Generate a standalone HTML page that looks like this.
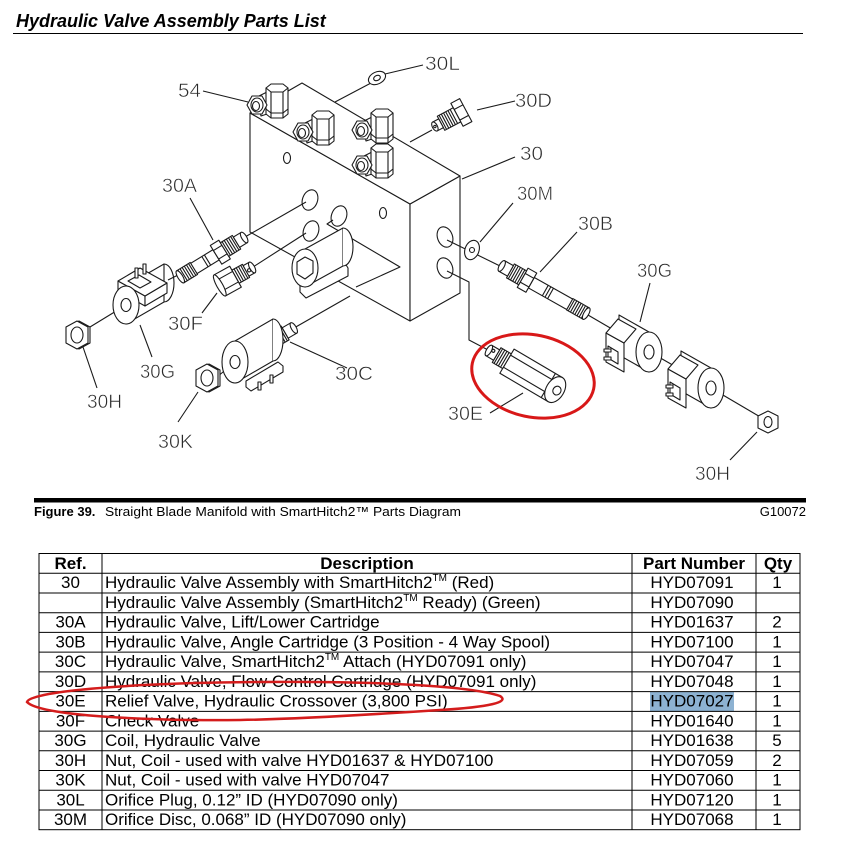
<!DOCTYPE html>
<html><head><meta charset="utf-8">
<style>
html,body{margin:0;padding:0;background:#fff;}
svg{display:block;}
</style></head><body>
<svg width="842" height="842" viewBox="0 0 842 842" xmlns="http://www.w3.org/2000/svg" font-family="'Liberation Sans', Arial, sans-serif">
<rect width="842" height="842" fill="#fff"/>

<!-- Title -->
<text x="16" y="27" font-size="18" font-weight="bold" font-style="italic" fill="#000">Hydraulic Valve Assembly Parts List</text>
<line x1="13" y1="33.5" x2="803" y2="33.5" stroke="#000" stroke-width="1"/>

<!-- ============ DIAGRAM ============ -->
<g stroke="#1a1a1a" stroke-width="1.1" fill="none" stroke-linejoin="round">

<!-- Manifold block -->
<polygon points="250,113 410,204 410,321 250,232" fill="#fff"/>
<polygon points="410,204 460,176 460,293 410,321" fill="#fff"/>
<polygon points="250,113 302,83 460,176 410,204" fill="#fff"/>
<!-- holes front -->
<ellipse cx="287" cy="158" rx="3.5" ry="5.5"/>
<ellipse cx="383" cy="213" rx="3.5" ry="5.5"/>
<ellipse cx="310" cy="200" rx="7.5" ry="10.5" transform="rotate(20 310 200)"/>
<ellipse cx="339" cy="216" rx="7.5" ry="10.5" transform="rotate(20 339 216)"/>
<ellipse cx="311" cy="231" rx="7.5" ry="10.5" transform="rotate(20 311 231)"/>
<!-- holes right -->
<ellipse cx="445" cy="237" rx="7.5" ry="10.5" transform="rotate(-20 445 237)"/>
<ellipse cx="445" cy="268" rx="7.5" ry="10.5" transform="rotate(-20 445 268)"/>
<!-- recess outline -->
<polyline points="333,220 327,224 400,267 356,287"/>

<!-- connection / leader lines -->
<line x1="423" y1="65" x2="385" y2="74"/>
<line x1="371" y1="83" x2="335" y2="102"/>
<line x1="515" y1="101" x2="477" y2="110"/>
<line x1="432" y1="130" x2="410" y2="142"/>
<line x1="515" y1="157" x2="462" y2="179"/>
<line x1="513" y1="203" x2="480" y2="242"/>
<line x1="447" y1="240" x2="500" y2="266"/>
<line x1="577" y1="232" x2="540" y2="272"/>
<line x1="588" y1="315" x2="612" y2="329"/>
<line x1="650" y1="283" x2="640" y2="322"/>
<line x1="650" y1="352" x2="690" y2="375"/>
<line x1="711" y1="388" x2="762" y2="418"/>
<line x1="757" y1="432" x2="730" y2="460"/>
<polyline points="447,271 469,282 469,340 490,351"/>
<line x1="523" y1="393" x2="490" y2="413"/>
<line x1="203" y1="91" x2="248" y2="102"/>
<line x1="190" y1="198" x2="213" y2="240"/>
<line x1="245" y1="237" x2="306" y2="202"/>
<line x1="253" y1="267" x2="306" y2="233"/>
<line x1="217" y1="293" x2="202" y2="313"/>
<line x1="168" y1="280" x2="182" y2="273"/>
<line x1="90" y1="327" x2="126" y2="305"/>
<line x1="140" y1="325" x2="152" y2="357"/>
<line x1="83" y1="347" x2="97" y2="388"/>
<line x1="294" y1="328" x2="350" y2="296"/>
<line x1="290" y1="342" x2="347" y2="368"/>
<line x1="217" y1="377" x2="235" y2="362"/>
<line x1="198" y1="392" x2="178" y2="422"/>

<!-- Elbow fittings (54) -->
<g transform="translate(277,84)">
 <path d="M-20,13 L-4,5 L-4,28 L-16,32 Z" fill="#fff"/>
 <path d="M-11,4 L-11,30 L-6,34 L6,34 L11,30 L11,4 Z" fill="#fff"/>
 <polygon points="-11,4 -6,0 6,0 11,4 6,8 -6,8" fill="#fff"/>
 <path d="M-6,8V34M6,8V34M-11,25L-6,29L6,29L11,25"/>
 <polygon points="-30,21 -25,12 -15,12 -10,21 -15,30 -25,30" fill="#fff"/>
 <ellipse cx="-20" cy="21" rx="6" ry="7" fill="#fff"/>
 <ellipse cx="-21" cy="22" rx="3.5" ry="4.5"/>
</g>
<g transform="translate(323,111)">
 <path d="M-20,13 L-4,5 L-4,28 L-16,32 Z" fill="#fff"/>
 <path d="M-11,4 L-11,30 L-6,34 L6,34 L11,30 L11,4 Z" fill="#fff"/>
 <polygon points="-11,4 -6,0 6,0 11,4 6,8 -6,8" fill="#fff"/>
 <path d="M-6,8V34M6,8V34M-11,25L-6,29L6,29L11,25"/>
 <polygon points="-30,21 -25,12 -15,12 -10,21 -15,30 -25,30" fill="#fff"/>
 <ellipse cx="-20" cy="21" rx="6" ry="7" fill="#fff"/>
 <ellipse cx="-21" cy="22" rx="3.5" ry="4.5"/>
</g>
<g transform="translate(382,109)">
 <path d="M-20,13 L-4,5 L-4,28 L-16,32 Z" fill="#fff"/>
 <path d="M-11,4 L-11,30 L-6,34 L6,34 L11,30 L11,4 Z" fill="#fff"/>
 <polygon points="-11,4 -6,0 6,0 11,4 6,8 -6,8" fill="#fff"/>
 <path d="M-6,8V34M6,8V34M-11,25L-6,29L6,29L11,25"/>
 <polygon points="-30,21 -25,12 -15,12 -10,21 -15,30 -25,30" fill="#fff"/>
 <ellipse cx="-20" cy="21" rx="6" ry="7" fill="#fff"/>
 <ellipse cx="-21" cy="22" rx="3.5" ry="4.5"/>
</g>
<g transform="translate(382,144)">
 <path d="M-20,13 L-4,5 L-4,28 L-16,32 Z" fill="#fff"/>
 <path d="M-11,4 L-11,30 L-6,34 L6,34 L11,30 L11,4 Z" fill="#fff"/>
 <polygon points="-11,4 -6,0 6,0 11,4 6,8 -6,8" fill="#fff"/>
 <path d="M-6,8V34M6,8V34M-11,25L-6,29L6,29L11,25"/>
 <polygon points="-30,21 -25,12 -15,12 -10,21 -15,30 -25,30" fill="#fff"/>
 <ellipse cx="-20" cy="21" rx="6" ry="7" fill="#fff"/>
 <ellipse cx="-21" cy="22" rx="3.5" ry="4.5"/>
</g>

<!-- 30L washer -->
<ellipse cx="377" cy="78" rx="9" ry="6" transform="rotate(-25 377 78)" fill="#fff"/>
<ellipse cx="377" cy="78" rx="3.5" ry="2.5" transform="rotate(-25 377 78)"/>

<!-- 30D plug -->
<g transform="translate(434,127) rotate(-28)" fill="#fff">
 <rect x="26" y="-13" width="10" height="26"/>
 <path d="M26,-6H36M26,6H36" fill="none"/>
 <rect x="8" y="-8" width="18" height="16"/>
 <path d="M10,-8V8M12.5,-8V8M15,-8V8M17.5,-8V8M20,-8V8M22.5,-8V8" fill="none"/>
 <rect x="1" y="-5" width="7" height="10"/>
 <ellipse cx="1" cy="0" rx="2.5" ry="5"/>
 <circle cx="1" cy="0" r="1.2"/>
</g>

<!-- 30M washer -->
<ellipse cx="472" cy="250" rx="7" ry="10" transform="rotate(20 472 250)" fill="#fff"/>
<circle cx="472" cy="250" r="2.5"/>

<!-- 30B cartridge -->
<g transform="translate(500,265) rotate(29.4)" fill="#fff">
 <rect x="36" y="-6" width="46" height="12"/>
 <path d="M52,-6V6M55,-6V6M58,-6V6" fill="none"/>
 <rect x="80" y="-6.5" width="19" height="13"/>
 <path d="M82,-6.5V6.5M84.5,-6.5V6.5M87,-6.5V6.5M89.5,-6.5V6.5M92,-6.5V6.5M94.5,-6.5V6.5M97,-6.5V6.5" fill="none"/>
 <ellipse cx="99" cy="0" rx="2.5" ry="6.5"/>
 <rect x="26" y="-11" width="10" height="22"/>
 <path d="M26,-5H36M26,5H36" fill="none"/>
 <rect x="12" y="-8" width="14" height="16"/>
 <path d="M14,-8V8M16.5,-8V8M19,-8V8M21.5,-8V8M24,-8V8" fill="none"/>
 <rect x="2" y="-6" width="10" height="12"/>
 <ellipse cx="2" cy="0" rx="2.5" ry="6"/>
</g>

<!-- Right coil 1 (30G) -->
<g transform="translate(649,352)">
 <polygon points="0,-20 -30,-37 -30,3 0,20" fill="#fff"/>
 <polygon points="-43,-19 -25,-9 -25,20 -43,10" fill="#fff"/>
 <polygon points="-43,-19 -31,-33 -13,-23 -25,-9" fill="#fff"/>
 <polygon points="-41,-6 -31,0 -31,12 -41,6" fill="#fff"/>
 <path d="M-45,-3h7v3h-7zM-45,5h7v3h-7z" fill="#fff"/>
 <ellipse cx="0" cy="0" rx="13" ry="20" fill="#fff"/>
 <ellipse cx="0" cy="0" rx="5" ry="7"/>
</g>
<!-- Right coil 2 (30G) -->
<g transform="translate(711,388)">
 <polygon points="0,-20 -30,-37 -30,3 0,20" fill="#fff"/>
 <polygon points="-43,-19 -25,-9 -25,20 -43,10" fill="#fff"/>
 <polygon points="-43,-19 -31,-33 -13,-23 -25,-9" fill="#fff"/>
 <polygon points="-41,-6 -31,0 -31,12 -41,6" fill="#fff"/>
 <path d="M-45,-3h7v3h-7zM-45,5h7v3h-7z" fill="#fff"/>
 <ellipse cx="0" cy="0" rx="13" ry="20" fill="#fff"/>
 <ellipse cx="0" cy="0" rx="5" ry="7"/>
</g>
<!-- 30H right nut -->
<polygon points="768,411 778,416 778,428 768,433 758,428 758,416" fill="#fff"/>
<ellipse cx="768" cy="422" rx="4" ry="5.5"/>

<!-- 30E relief valve -->
<g transform="translate(488,350) rotate(30.5)" fill="#fff">
 <rect x="22" y="-14" width="56" height="28"/>
 <path d="M22,-7H78M22,7H78M70,-14V14" fill="none"/>
 <ellipse cx="78" cy="0" rx="9" ry="14"/>
 <ellipse cx="80" cy="0" rx="4" ry="4.5"/>
 <rect x="10" y="-8.5" width="12" height="17"/>
 <path d="M12,-8.5V8.5M14.5,-8.5V8.5M17,-8.5V8.5M19.5,-8.5V8.5" fill="none"/>
 <rect x="1" y="-6" width="9" height="12"/>
 <ellipse cx="1" cy="0" rx="2.5" ry="6"/>
 <circle cx="5" cy="-2" r="1.5"/>
</g>

<!-- 30A cartridge -->
<g transform="translate(245,237) rotate(148.4)" fill="#fff">
 <rect x="34" y="-6" width="28" height="12"/>
 <path d="M44,-6V6M47,-6V6" fill="none"/>
 <rect x="60" y="-7" width="16" height="14"/>
 <path d="M62,-7V7M64.5,-7V7M67,-7V7M69.5,-7V7M72,-7V7M74.5,-7V7" fill="none"/>
 <ellipse cx="76" cy="0" rx="2.5" ry="7"/>
 <rect x="24" y="-11" width="10" height="22"/>
 <path d="M24,-5H34M24,5H34" fill="none"/>
 <rect x="10" y="-8" width="14" height="16"/>
 <path d="M12,-8V8M14.5,-8V8M17,-8V8M19.5,-8V8M22,-8V8" fill="none"/>
 <rect x="1" y="-6" width="9" height="12"/>
 <ellipse cx="1" cy="0" rx="2.5" ry="6"/>
</g>

<!-- 30F check valve -->
<g transform="translate(253,267) rotate(151)" fill="#fff">
 <rect x="1" y="-6" width="8" height="12"/>
 <ellipse cx="1" cy="0" rx="2.5" ry="6"/>
 <circle cx="5" cy="-1" r="1.6"/>
 <rect x="8" y="-7.5" width="12" height="15"/>
 <path d="M10,-7.5V7.5M12.5,-7.5V7.5M15,-7.5V7.5M17.5,-7.5V7.5" fill="none"/>
 <rect x="20" y="-12" width="18" height="24"/>
 <path d="M20,-6H38M20,6H38" fill="none"/>
 <ellipse cx="38" cy="0" rx="3" ry="12"/>
</g>

<!-- Left coil 30G -->
<polygon points="126,286 164,264 164,302 126,324" fill="#fff"/>
<path d="M164,264 A10,19 0 0 1 164,302"/>
<polygon points="118,281 145,296 145,306 118,291" fill="#fff"/>
<polygon points="145,296 167,283 167,293 145,306" fill="#fff"/>
<polygon points="118,281 140,268 167,283 145,296" fill="#fff"/>
<polygon points="128,281 139,275 151,282 140,288" fill="#fff"/>
<rect x="135" y="268" width="3" height="10" fill="#fff"/>
<rect x="143" y="264" width="3" height="10" fill="#fff"/>
<ellipse cx="126" cy="305" rx="13" ry="19" fill="#fff"/>
<ellipse cx="126" cy="305" rx="5" ry="6.5"/>

<!-- 30H left nut -->
<polygon points="79,321 90,327 90,343 79,349 68,343 68,327" fill="#fff"/>
<polygon points="77,321 88,327 88,343 77,349 66,343 66,327" fill="#fff"/>
<ellipse cx="77" cy="335" rx="6" ry="8"/>

<!-- 30C coil -->
<g transform="translate(273,340) rotate(-30)" fill="#fff">
 <rect x="14" y="-6" width="10" height="12"/>
 <ellipse cx="24" cy="0" rx="2.5" ry="6"/>
 <rect x="0" y="-8" width="14" height="16"/>
 <path d="M2,-8V8M4.5,-8V8M7,-8V8M9.5,-8V8M12,-8V8" fill="none"/>
</g>
<polygon points="235,341 273,319 273,361 235,383" fill="#fff"/>
<path d="M273,319 A10,21 0 0 1 273,361" fill="#fff"/>
<polygon points="246,381 278,362 283,366 283,372 251,391 246,387" fill="#fff"/>
<rect x="258" y="382" width="3" height="8" fill="#fff"/>
<rect x="270" y="375" width="3" height="8" fill="#fff"/>
<ellipse cx="235" cy="362" rx="13" ry="21" fill="#fff"/>
<ellipse cx="235" cy="362" rx="5" ry="6.5"/>

<!-- 30K nut -->
<polygon points="209,364 220,370 220,386 209,392 198,386 198,370" fill="#fff"/>
<polygon points="207,364 218,370 218,386 207,392 196,386 196,370" fill="#fff"/>
<ellipse cx="207" cy="378" rx="6" ry="8"/>

<!-- Front-face mounted solenoid body -->
<polygon points="300,283 343,260 348,268 348,276 306,298 300,292" fill="#fff"/>
<polygon points="305,249 343,228 343,266 305,287" fill="#fff"/>
<path d="M343,228 A10,19 0 0 1 343,266" fill="#fff"/>
<ellipse cx="305" cy="268" rx="13" ry="19" fill="#fff"/>
<polygon points="305,257 313,261 313,273 305,279 297,274 297,262" fill="#fff"/>

</g>

<!-- Red highlight ellipse in diagram -->
<ellipse cx="533" cy="376" rx="62" ry="41" transform="rotate(12 533 376)" fill="none" stroke="#d81818" stroke-width="3"/>

<!-- Diagram labels -->
<g font-size="19" fill="#2a2a2a" stroke="#fff" stroke-width="0.5">
<text x="178" y="97" textLength="23" lengthAdjust="spacingAndGlyphs">54</text>
<text x="425" y="70" textLength="35" lengthAdjust="spacingAndGlyphs">30L</text>
<text x="515" y="107" textLength="37" lengthAdjust="spacingAndGlyphs">30D</text>
<text x="520" y="160" textLength="23" lengthAdjust="spacingAndGlyphs">30</text>
<text x="517" y="200" textLength="36" lengthAdjust="spacingAndGlyphs">30M</text>
<text x="578" y="230" textLength="35" lengthAdjust="spacingAndGlyphs">30B</text>
<text x="637" y="277" textLength="35" lengthAdjust="spacingAndGlyphs">30G</text>
<text x="448" y="420" textLength="35" lengthAdjust="spacingAndGlyphs">30E</text>
<text x="695" y="480" textLength="35" lengthAdjust="spacingAndGlyphs">30H</text>
<text x="162" y="192" textLength="35" lengthAdjust="spacingAndGlyphs">30A</text>
<text x="168" y="330" textLength="35" lengthAdjust="spacingAndGlyphs">30F</text>
<text x="140" y="378" textLength="35" lengthAdjust="spacingAndGlyphs">30G</text>
<text x="87" y="408" textLength="35" lengthAdjust="spacingAndGlyphs">30H</text>
<text x="158" y="448" textLength="35" lengthAdjust="spacingAndGlyphs">30K</text>
<text x="335" y="380" textLength="38" lengthAdjust="spacingAndGlyphs">30C</text>
</g>

<!-- Caption -->
<rect x="34" y="498" width="772" height="4.5" fill="#000"/>
<text x="34" y="516" font-size="13" font-weight="bold" fill="#000">Figure 39.</text>
<text x="105" y="516" font-size="13" fill="#000" textLength="356" lengthAdjust="spacingAndGlyphs">Straight Blade Manifold with SmartHitch2™ Parts Diagram</text>
<text x="806" y="516" font-size="13" fill="#000" text-anchor="end">G10072</text>

<!-- ============ TABLE ============ -->
<rect x="650" y="691.6" width="84" height="19.4" fill="#8db2d2"/>
<g stroke="#000" stroke-width="1" fill="none">
 <rect x="39" y="553.5" width="761" height="276.2"/>
 <line x1="102" y1="553.5" x2="102" y2="829.7"/>
 <line x1="632" y1="553.5" x2="632" y2="829.7"/>
 <line x1="756" y1="553.5" x2="756" y2="829.7"/>
 <line x1="39" y1="573.23" x2="800" y2="573.23"/>
 <line x1="39" y1="592.96" x2="800" y2="592.96"/>
 <line x1="39" y1="612.69" x2="800" y2="612.69"/>
 <line x1="39" y1="632.42" x2="800" y2="632.42"/>
 <line x1="39" y1="652.15" x2="800" y2="652.15"/>
 <line x1="39" y1="671.88" x2="800" y2="671.88"/>
 <line x1="39" y1="691.61" x2="800" y2="691.61"/>
 <line x1="39" y1="711.34" x2="800" y2="711.34"/>
 <line x1="39" y1="731.07" x2="800" y2="731.07"/>
 <line x1="39" y1="750.8" x2="800" y2="750.8"/>
 <line x1="39" y1="770.53" x2="800" y2="770.53"/>
 <line x1="39" y1="790.26" x2="800" y2="790.26"/>
 <line x1="39" y1="809.99" x2="800" y2="809.99"/>
</g>

<g font-size="17" font-weight="bold" fill="#000" text-anchor="middle">
 <text x="70.5" y="569">Ref.</text>
 <text x="367" y="569">Description</text>
 <text x="694" y="569">Part Number</text>
 <text x="778" y="569">Qty</text>
</g>

<g font-size="17" fill="#000">
 <g text-anchor="middle">
  <text x="70.5" y="588.2">30</text>
  <text x="70.5" y="627.7">30A</text>
  <text x="70.5" y="647.4">30B</text>
  <text x="70.5" y="667.2">30C</text>
  <text x="70.5" y="686.9">30D</text>
  <text x="70.5" y="706.6">30E</text>
  <text x="70.5" y="726.3">30F</text>
  <text x="70.5" y="746.1">30G</text>
  <text x="70.5" y="765.8">30H</text>
  <text x="70.5" y="785.5">30K</text>
  <text x="70.5" y="805.3">30L</text>
  <text x="70.5" y="825">30M</text>

  <text x="692" y="588.2">HYD07091</text>
  <text x="692" y="608">HYD07090</text>
  <text x="692" y="627.7">HYD01637</text>
  <text x="692" y="647.4">HYD07100</text>
  <text x="692" y="667.2">HYD07047</text>
  <text x="692" y="686.9">HYD07048</text>
  <text x="692" y="706.6">HYD07027</text>
  <text x="692" y="726.3">HYD01640</text>
  <text x="692" y="746.1">HYD01638</text>
  <text x="692" y="765.8">HYD07059</text>
  <text x="692" y="785.5">HYD07060</text>
  <text x="692" y="805.3">HYD07120</text>
  <text x="692" y="825">HYD07068</text>

  <text x="777" y="588.2">1</text>
  <text x="777" y="627.7">2</text>
  <text x="777" y="647.4">1</text>
  <text x="777" y="667.2">1</text>
  <text x="777" y="686.9">1</text>
  <text x="777" y="706.6">1</text>
  <text x="777" y="726.3">1</text>
  <text x="777" y="746.1">5</text>
  <text x="777" y="765.8">2</text>
  <text x="777" y="785.5">1</text>
  <text x="777" y="805.3">1</text>
  <text x="777" y="825">1</text>
 </g>
 <text x="105" y="588.2">Hydraulic Valve Assembly with SmartHitch2<tspan font-size="10" dy="-7">TM</tspan><tspan dy="7"> (Red)</tspan></text>
 <text x="105" y="608">Hydraulic Valve Assembly (SmartHitch2<tspan font-size="10" dy="-7">TM</tspan><tspan dy="7"> Ready) (Green)</tspan></text>
 <text x="105" y="627.7">Hydraulic Valve, Lift/Lower Cartridge</text>
 <text x="105" y="647.4">Hydraulic Valve, Angle Cartridge (3 Position - 4 Way Spool)</text>
 <text x="105" y="667.2">Hydraulic Valve, SmartHitch2<tspan font-size="10" dy="-7">TM</tspan><tspan dy="7"> Attach (HYD07091 only)</tspan></text>
 <text x="105" y="686.9">Hydraulic Valve, Flow Control Cartridge (HYD07091 only)</text>
 <text x="105" y="706.6">Relief Valve, Hydraulic Crossover (3,800 PSI)</text>
 <text x="105" y="726.3">Check Valve</text>
 <text x="105" y="746.1">Coil, Hydraulic Valve</text>
 <text x="105" y="765.8">Nut, Coil - used with valve HYD01637 &amp; HYD07100</text>
 <text x="105" y="785.5">Nut, Coil - used with valve HYD07047</text>
 <text x="105" y="805.3">Orifice Plug, 0.12” ID (HYD07090 only)</text>
 <text x="105" y="825">Orifice Disc, 0.068” ID (HYD07090 only)</text>
</g>

<!-- Red hand-drawn ellipse in table -->
<path d="M27,702 C30,692 120,683 260,682 C380,681 470,686 500,696 C510,702 490,707 440,710 C380,714 300,719 240,720 C150,721 40,716 27,702 Z" fill="none" stroke="#d41c1c" stroke-width="2.5"/>

</svg>
</body></html>
